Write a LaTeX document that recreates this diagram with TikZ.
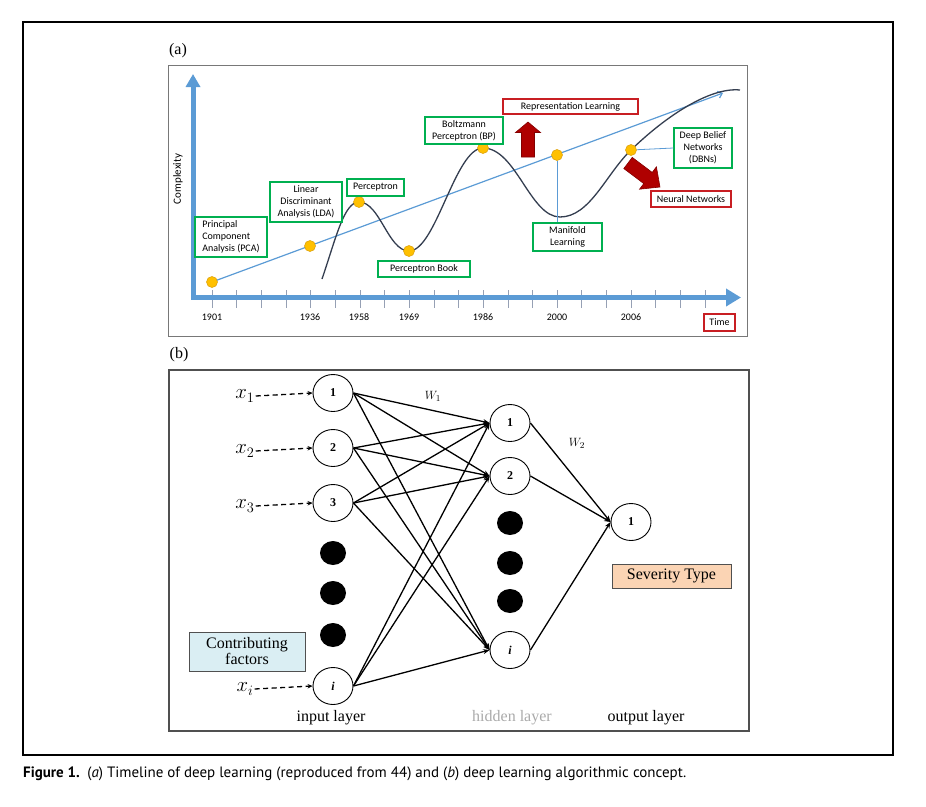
\documentclass[tikz,border=0pt]{standalone}
\usepackage{fontspec}
\setmainfont{Liberation Serif}
\newfontfamily\calfont{Carlito}
\newfontfamily\capfont{PT Sans}
\usetikzlibrary{arrows.meta,shapes.geometric}

\definecolor{axisblue}{RGB}{91,155,213}
\definecolor{curvegray}{RGB}{52,62,80}
\definecolor{dotorange}{RGB}{255,192,0}
\definecolor{dotedge}{RGB}{222,165,20}
\definecolor{boxgreen}{RGB}{0,176,80}
\definecolor{boxred}{RGB}{200,30,35}
\definecolor{arrowred}{RGB}{175,0,0}
\definecolor{tickgray}{RGB}{150,160,180}
\definecolor{panelgray}{RGB}{120,120,120}
\definecolor{framegray}{RGB}{80,80,80}
\definecolor{factorblue}{RGB}{218,238,243}
\definecolor{severitypeach}{RGB}{251,212,180}
\definecolor{hiddengray}{RGB}{170,170,170}

\tikzset{
  calibri/.style={font=\calfont\fontsize{10}{12}\selectfont},
  greenbox/.style={calibri,draw=boxgreen,line width=1.1pt,fill=white,inner sep=2.5pt,align=center},
  redbox/.style={calibri,draw=boxred,line width=1.1pt,fill=white,inner sep=2.5pt,align=center},
  yeardot/.style={circle,fill=dotorange,draw=dotedge,line width=0.6pt,minimum size=11pt,inner sep=0pt},
  blockarrow/.style={fill=arrowred,draw=arrowred!75!black,line width=0.6pt,line join=miter},
  timb/.style={font=\fontsize{16}{18}\selectfont}
}

\begin{document}
\begin{tikzpicture}[x=1pt,y=-1pt]
\useasboundingbox (0,0) rectangle (926,806);
\draw[line width=1.2pt] (23,22) rectangle (893,755);

% ---------- (a) timeline ----------
\node[timb] (labela) at (178,51) {(a)};
\draw[panelgray,line width=0.9pt] (168,65) rectangle (747,336);

% ticks on the time axis
\foreach \i in {0,...,20}
  \draw[tickgray,line width=0.6pt] (212+24.65*\i,290) -- ++(0,18);

\coordinate (ytip) at (193,74);
\coordinate (origin) at (193,297.5);
\coordinate (xtip) at (741,297.5);
\draw[axisblue,line width=5pt,
      {Triangle[length=13pt,width=14pt]}-{Triangle[length=15pt,width=17pt]}]
  (ytip) -- (origin) -- (xtip);

\node[calibri,rotate=90,font=\calfont\fontsize{11}{13}\selectfont] (complexity) at (178,179) {Complexity};

\coordinate (p1901) at (212,282);
\coordinate (p1936) at (310,246);
\coordinate (p1958) at (359,202);
\coordinate (p1969) at (409,251);
\coordinate (p1986) at (483,148);
\coordinate (p2000) at (557,155);
\coordinate (p2006) at (631,150);
\coordinate (trendtip) at (723,93);

\draw[axisblue,line width=1.2pt,-{Straight Barb[length=4pt,width=7pt]}] (p1901) -- (trendtip);

% the complexity curve
\draw[curvegray,line width=1.3pt]
  (322,279) .. controls (336,238) and (344,202) .. (p1958)
  .. controls (380,202) and (388,251) .. (p1969)
  .. controls (436,251) and (455,148) .. (p1986)
  .. controls (516,148) and (530,217) .. (560,217)
  .. controls (590,217) and (606,174) .. (p2006)
  .. controls (666,116) and (710,87) .. (740,90);

\foreach \p in {1901,1936,1958,1969,1986,2000,2006}
  \node[yeardot] (d\p) at (p\p) {};

\begin{scope}[every node/.style={calibri}]
  \node (y1901) at (212,317) {1901};
  \node (y1936) at (310,317) {1936};
  \node (y1958) at (359,317) {1958};
  \node (y1969) at (409,317) {1969};
  \node (y1986) at (483,317) {1986};
  \node (y2000) at (557,317) {2000};
  \node (y2006) at (631,317) {2006};
\end{scope}

\node[greenbox,align=left,minimum width=72pt,minimum height=40pt] (pca) at (231,237)
  {Principal\\Component\\Analysis (PCA)};
\node[greenbox,minimum width=72pt,minimum height=40pt] (lda) at (306,202)
  {Linear\\Discriminant\\Analysis (LDA)};
\node[greenbox,minimum width=57pt,minimum height=17pt] (perceptron) at (375.5,187.5) {Perceptron};
\node[greenbox,minimum width=92pt,minimum height=16pt] (pbook) at (424,269) {Perceptron Book};
\node[greenbox,minimum width=78pt,minimum height=27pt] (bp) at (464,130.5) {Boltzmann\\Perceptron (BP)};
\node[greenbox,minimum width=69pt,minimum height=28pt] (manifold) at (567.5,237) {Manifold\\Learning};
\node[greenbox,minimum width=58pt,minimum height=40pt] (dbn) at (703,148) {Deep Belief\\Networks\\(DBNs)};
\node[redbox,minimum width=135pt,minimum height=15pt] (replearn) at (570.5,106.5) {Representation Learning};
\node[redbox,minimum width=80pt,minimum height=16pt] (neural) at (691,199) {Neural Networks};
\node[redbox,minimum width=31pt,minimum height=17pt] (time) at (719.5,322.5) {Time};

\draw[axisblue,line width=0.8pt] (d2000) -- (d2000 |- manifold.north);
\draw[axisblue,line width=0.8pt] (d2006) -- (dbn.west);

% the two red block arrows
\begin{scope}[shift={(528,139.5)},rotate=90]
  \draw[blockarrow] (-17.5,-6.5) -- (7,-6.5) -- (7,-12.5) -- (17.5,0) -- (7,12.5) -- (7,6.5) -- (-17.5,6.5) -- cycle;
\end{scope}
\begin{scope}[shift={(644,175)},rotate=-37]
  \draw[blockarrow] (-20,-7) -- (5,-7) -- (5,-14) -- (20,0) -- (5,14) -- (5,7) -- (-20,7) -- cycle;
\end{scope}

% ---------- (b) network ----------
\node[timb] (labelb) at (179,355) {(b)};
\draw[framegray,line width=1.2pt] (169,370) rectangle (749,731);

\begin{scope}[every node/.style={ellipse,draw,line width=0.9pt,minimum width=40pt,minimum height=37pt,inner sep=0pt,font=\fontsize{12}{14}\selectfont\bfseries}]
  \node (in1) at (333,393) {1};
  \node (in2) at (333,448) {2};
  \node (in3) at (333,503) {3};
  \node (ini) at (333,686) {\textit{i}};
  \node (hid1) at (510,423) {1};
  \node (hid2) at (510,476) {2};
  \node (hidi) at (510,650) {\textit{i}};
  \node (out1) at (631,522) {1};
\end{scope}

\begin{scope}[every node/.style={ellipse,fill=black,minimum width=26pt,minimum height=24pt,inner sep=0pt}]
  \node (indot1) at (333,553) {};
  \node (indot2) at (333,593) {};
  \node (indot3) at (333,635) {};
  \node (hiddot1) at (510,523) {};
  \node (hiddot2) at (510,563) {};
  \node (hiddot3) at (510,601) {};
\end{scope}

\begin{scope}[every node/.style={font=\fontsize{20}{22}\selectfont,inner sep=1pt}]
  \node (x1) at (245,396) {$x_1$};
  \node (x2) at (245,451) {$x_2$};
  \node (x3) at (245,506) {$x_3$};
  \node (xi) at (245,689) {$x_i$};
\end{scope}

\begin{scope}[every edge/.style={draw=black,line width=1.3pt,dash pattern=on 5pt off 3.5pt,-{Stealth[length=5pt,width=4.5pt]}}]
  \path (x1.east) edge (in1.west);
  \path (x2.east) edge (in2.west);
  \path (x3.east) edge (in3.west);
  \path (xi.east) edge (ini.west);
\end{scope}

\begin{scope}[every edge/.style={draw=black,line width=1.3pt,-{Stealth[length=6.5pt,width=5pt]}}]
  \path (in1.east) edge (hid1.west);
  \path (in1.east) edge (hid2.west);
  \path (in1.east) edge (hidi.west);
  \path (in2.east) edge (hid1.west);
  \path (in2.east) edge (hid2.west);
  \path (in2.east) edge (hidi.west);
  \path (in3.east) edge (hid1.west);
  \path (in3.east) edge (hid2.west);
  \path (in3.east) edge (hidi.west);
  \path (ini.east) edge (hid1.west);
  \path (ini.east) edge (hid2.west);
  \path (ini.east) edge (hidi.west);
  \path (hid1.east) edge (out1.west);
  \path (hid2.east) edge (out1.west);
  \path (hidi.east) edge (out1.west);
\end{scope}

\node[font=\fontsize{13}{15}\selectfont] (w1) at (433,396) {$W_1$};
\node[font=\fontsize{13}{15}\selectfont] (w2) at (577,443) {$W_2$};

\node[timb,draw=framegray,line width=1pt,fill=factorblue,align=center,minimum width=116pt,minimum height=39pt,inner sep=1pt]
  (factors) at (247,651.5) {Contributing\\[-2pt]factors};
\node[timb,draw=framegray,line width=1pt,fill=severitypeach,minimum width=119pt,minimum height=24pt,inner sep=1pt]
  (severity) at (671.5,576) {Severity Type};

\node[timb] (inlayer) at (331,718) {input layer};
\node[timb,text=hiddengray] (hidlayer) at (512,718) {hidden layer};
\node[timb] (outlayer) at (646,718) {output layer};

% caption
\node[anchor=base west,inner sep=0pt,font=\capfont\fontsize{15}{18}\selectfont] (caption) at (23,777)
  {\textbf{Figure 1.}\enspace(\textit{a}) Timeline of deep learning (reproduced from 44) and (\textit{b}) deep learning algorithmic concept.};
\end{tikzpicture}
\end{document}
